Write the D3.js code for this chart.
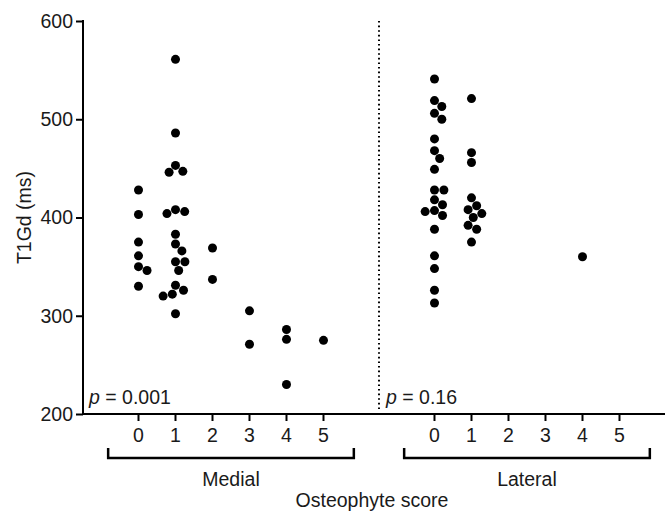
<!DOCTYPE html>
<html>
<head>
<meta charset="utf-8">
<script src="https://cdn.jsdelivr.net/npm/d3@7"></script>
<style>
  body { margin: 0; background: #fff; }
  svg text { font-family: "Liberation Sans", Arial, sans-serif; fill: #1a1a1a; }
</style>
</head>
<body>
<svg id="chart" width="665" height="512"></svg>
<script>
// DATA
const scores = [0, 1, 2, 3, 4, 5];
const groups = ["Medial", "Lateral"];
const pValues = ["0.001", "0.16"];
const yTicks = [200, 300, 400, 500, 600];

// T1Gd (ms) per osteophyte score, medial compartment
const medial = [
  [428, 403, 375, 361, 350, 346, 330],
  [561, 486, 453, 446, 447, 406, 404, 408, 383, 373, 366, 355, 355, 346, 331, 322, 320, 326, 302],
  [369, 337],
  [305, 271],
  [286, 276, 230],
  [275]
];
// lateral compartment
const lateral = [
  [541, 519, 513, 506, 500, 480, 468, 460, 449, 428, 428, 418, 413, 407, 402, 406, 388, 361, 348, 326, 313],
  [521, 466, 456, 420, 412, 408, 404, 400, 392, 388, 375],
  [],
  [],
  [360],
  []
];

const svg = d3.select("#chart");
const plotLeft = 83, plotRight = 665, plotTop = 21, plotBottom = 414;
const R = 4.5;
const FS = 19.5;

// one continuous x scale, lateral block shifted by 8 units
const offsetLateral = 8;
const x = d3.scaleLinear().domain([-1.5, 14.23]).range([plotLeft, plotRight]);
const y = d3.scaleLinear().domain([200, 600]).range([plotBottom, plotTop]);

// simple beeswarm so dots with close values sit side by side
function swarm(vals, cx){
  const pts = vals.map(v => ({v: v, y: y(v)})).sort((a, b) => a.y - b.y);
  const placed = [];
  const d = R * 2 + 0.4;
  pts.forEach(p => {
    let cands = [0];
    placed.forEach(q => {
      const dy = Math.abs(q.y - p.y);
      if (dy < d) {
        const dx = Math.sqrt(d * d - dy * dy);
        cands.push(q.dx + dx, q.dx - dx);
      }
    });
    cands.sort((a, b) => Math.abs(a) - Math.abs(b));
    for (let c of cands) {
      const ok = placed.every(q => {
        const dx = q.dx - c, dy = q.y - p.y;
        return dx * dx + dy * dy >= d * d - 0.01;
      });
      if (ok) { p.dx = c; break; }
    }
    placed.push(p);
  });
  return placed.map(p => ({x: cx + p.dx, y: p.y}));
}

let dots = [];
[medial, lateral].forEach((grp, gi) => {
  grp.forEach((vals, si) => {
    dots = dots.concat(swarm(vals, x(scores[si] + gi * offsetLateral)));
  });
});

svg.selectAll("circle.dot")
  .data(dots)
  .enter().append("circle")
  .attr("class", "dot")
  .attr("cx", d => d.x)
  .attr("cy", d => d.y)
  .attr("r", R)
  .attr("fill", "#000");

// dotted divider between compartments
svg.append("line")
  .attr("x1", x(6.5)).attr("x2", x(6.5))
  .attr("y1", y(600)).attr("y2", plotBottom - 3)
  .attr("stroke", "#000")
  .attr("stroke-width", 2)
  .attr("stroke-dasharray", "1.6,3");

// Y AXIS
const yAxis = svg.append("g")
  .attr("transform", "translate(" + plotLeft + ",0)")
  .call(d3.axisLeft(y).tickValues(yTicks).tickSize(7).tickPadding(3));
yAxis.select(".domain").attr("stroke-width", 2).attr("d", "M0," + (plotTop - 1) + "V" + (plotBottom + 1));
yAxis.selectAll(".tick line").attr("stroke-width", 2);
yAxis.selectAll("text").attr("font-size", FS).attr("fill", "#1a1a1a");

// X AXIS
const tickPos = [];
groups.forEach((g, gi) => scores.forEach(s => tickPos.push({s: s, k: s + gi * offsetLateral})));

const xAxis = svg.append("g").attr("transform", "translate(0," + plotBottom + ")");
xAxis.append("line")
  .attr("x1", plotLeft - 1).attr("x2", plotRight)
  .attr("stroke", "#000").attr("stroke-width", 2);
xAxis.selectAll("line.tick")
  .data(tickPos).enter().append("line")
  .attr("class", "tick")
  .attr("x1", d => x(d.k)).attr("x2", d => x(d.k))
  .attr("y1", 0).attr("y2", 7)
  .attr("stroke", "#000").attr("stroke-width", 2);
xAxis.selectAll("text.tick")
  .data(tickPos).enter().append("text")
  .attr("class", "tick")
  .attr("x", d => x(d.k))
  .attr("y", 28)
  .attr("text-anchor", "middle")
  .attr("font-size", FS)
  .text(d => d.s);

// group brackets
const brY = 458;
groups.forEach((g, gi) => {
  const a = x(-0.82 + gi * offsetLateral), b = x(5.82 + gi * offsetLateral);
  svg.append("path")
    .attr("d", "M" + a + "," + (brY - 10) + "V" + brY + "H" + b + "V" + (brY - 10))
    .attr("fill", "none").attr("stroke", "#000").attr("stroke-width", 2.5);
  svg.append("text")
    .attr("x", (a + b) / 2).attr("y", 486)
    .attr("text-anchor", "middle").attr("font-size", FS)
    .text(g);
  // p value annotations
  const pt = svg.append("text")
    .attr("x", gi === 0 ? plotLeft + 6 : x(6.5) + 7)
    .attr("y", 404)
    .attr("font-size", FS);
  pt.append("tspan").attr("font-style", "italic").text("p");
  pt.append("tspan").text(" = " + pValues[gi]);
});

// axis titles
svg.append("text")
  .attr("x", 372).attr("y", 507)
  .attr("text-anchor", "middle").attr("font-size", FS)
  .text("Osteophyte score");

svg.append("text")
  .attr("transform", "translate(31," + y(400) + ") rotate(-90)")
  .attr("text-anchor", "middle").attr("font-size", FS)
  .text("T1Gd (ms)");
</script>
</body>
</html>
